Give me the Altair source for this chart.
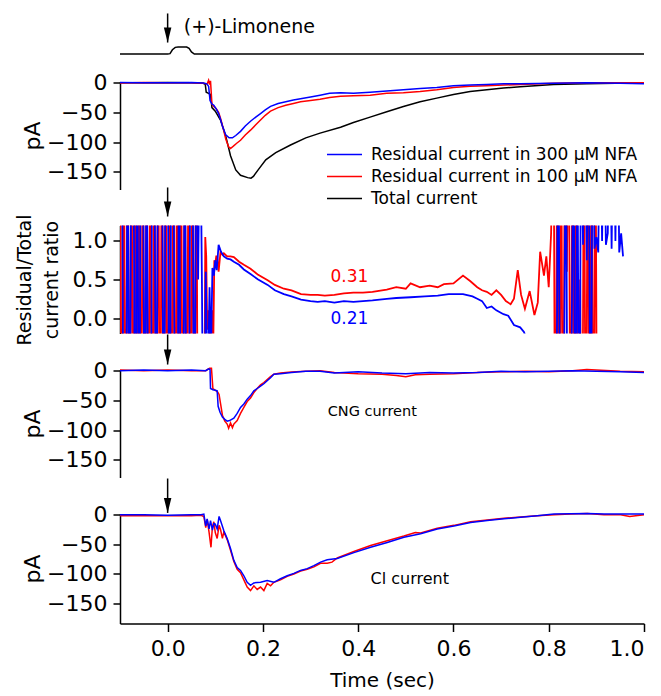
import altair as alt
import pandas as pd

FONT = "DejaVu Sans"
BLUE, RED, BLACK = "#0000ff", "#ff0000", "#000000"
LBL_300 = "Residual current in 300 μM NFA"
LBL_100 = "Residual current in 100 μM NFA"
LBL_TOT = "Total current"

TIME_DOMAIN = [-0.1, 1.0]
TIME_TICKS = [0.0, 0.2, 0.4, 0.6, 0.8, 1.0]
PA_DOMAIN = [-180, 2]
PA_DOMAIN_LAST = [-183.5, 2]
PA_TICKS = [0, -50, -100, -150]
RATIO_DOMAIN = [-0.2, 1.2]
RATIO_TICKS = [0.0, 0.5, 1.0]
STIM_DOMAIN = [0, 8 / 7]

# ---------------- stimulus trace (arbitrary units) ----------------
stimulus = [(-0.10, 0), (0.000, 0), (0.005, 0.05), (0.010, 0.6), (0.016, 0.95), (0.022, 1.0),
            (0.040, 1.0), (0.045, 0.8), (0.050, 0.3), (0.056, 0), (1.000, 0)]

# ---------------- panel 1: currents (pA) ----------------
total_pa = [(-0.10, 0), (-0.05, 0), (0.00, 0.5), (0.05, 0), (0.075, -1), (0.079, -3), (0.081, -16),
            (0.086, -18), (0.090, -20), (0.093, -42), (0.100, -48), (0.111, -63), (0.122, -90),
            (0.132, -123), (0.143, -147), (0.153, -156), (0.168, -160), (0.175, -161), (0.180, -158),
            (0.190, -147), (0.206, -130), (0.227, -118), (0.258, -105), (0.290, -93), (0.320, -85),
            (0.363, -75), (0.390, -67), (0.425, -58), (0.460, -49), (0.495, -40), (0.530, -32),
            (0.565, -26), (0.600, -20), (0.635, -15), (0.670, -12), (0.705, -9), (0.740, -7),
            (0.810, -3), (0.880, -2), (0.940, -1), (1.000, 0)]

nfa300_pa = [(-0.10, 0.5), (-0.05, 0), (0.00, 0), (0.05, 0.5), (0.075, -0.5), (0.082, -2), (0.086, -6),
             (0.089, -30), (0.093, -36), (0.097, -38), (0.102, -44), (0.107, -52), (0.111, -62),
             (0.115, -73), (0.122, -88), (0.129, -93), (0.136, -93), (0.143, -89), (0.153, -82),
             (0.163, -73), (0.174, -65), (0.185, -58), (0.195, -52), (0.205, -46), (0.216, -40),
             (0.232, -35), (0.248, -32), (0.264, -29), (0.279, -27), (0.300, -24), (0.320, -21),
             (0.340, -18), (0.363, -17), (0.390, -18), (0.425, -16), (0.460, -14), (0.495, -12),
             (0.530, -10), (0.565, -8), (0.600, -5), (0.635, -4), (0.670, -3), (0.705, -2),
             (0.740, -2), (0.810, -1), (0.880, 0), (0.950, -1), (1.000, -2)]

nfa100_pa = [(-0.10, -0.5), (-0.05, 0.5), (0.00, 0), (0.05, 0), (0.075, -1), (0.083, -2), (0.086, 4),
             (0.088, -3), (0.090, 3), (0.093, -36), (0.097, -40), (0.102, -44), (0.107, -50),
             (0.111, -60), (0.117, -78), (0.122, -95), (0.128, -108), (0.132, -111), (0.138, -107),
             (0.145, -102), (0.153, -97), (0.163, -88), (0.174, -80), (0.185, -71), (0.195, -63),
             (0.205, -55), (0.216, -48), (0.232, -42), (0.248, -38), (0.264, -35), (0.279, -32),
             (0.300, -30), (0.320, -28), (0.340, -25), (0.363, -23), (0.390, -22), (0.425, -21),
             (0.460, -18), (0.495, -17), (0.530, -15), (0.565, -12), (0.600, -8), (0.635, -6),
             (0.670, -5), (0.705, -4), (0.740, -3), (0.810, -1), (0.880, 0), (0.950, 0), (1.000, 0)]

# ---------------- panel 2: residual / total ratio ----------------
ratio_300 = [(-0.100, 3), (-0.096, 3), (-0.092, -3), (-0.088, -3), (-0.084, 3), (-0.080, -3), (-0.076, 3),
             (-0.072, 3), (-0.068, -3), (-0.064, 3), (-0.060, -3), (-0.056, 3), (-0.052, 3), (-0.048, -3),
             (-0.044, 3), (-0.040, -3), (-0.036, -3), (-0.032, 3), (-0.028, 3), (-0.024, -3), (-0.020, 3),
             (-0.016, 3), (-0.012, 3), (-0.008, -3), (-0.004, 3), (0.000, 3), (0.004, -3), (0.008, 3),
             (0.012, 3), (0.016, -3), (0.020, -3), (0.024, 3), (0.028, -3), (0.032, -3), (0.036, 3),
             (0.040, -3), (0.044, -3), (0.048, 3), (0.052, 3), (0.056, -3), (0.060, 3),
             (0.064, 0.5), (0.068, 3), (0.072, 0.45), (0.076, -3), (0.080, 0.6), (0.084, -1), (0.088, 0.4),
             (0.091, -0.5), (0.094, 0.65), (0.097, 0.55), (0.100, 0.75), (0.103, 0.62), (0.107, 0.95),
             (0.112, 0.86), (0.118, 0.80), (0.125, 0.77), (0.132, 0.76), (0.139, 0.73), (0.150, 0.69),
             (0.160, 0.63), (0.174, 0.57), (0.190, 0.50), (0.210, 0.43), (0.225, 0.36), (0.244, 0.31),
             (0.260, 0.28), (0.280, 0.24), (0.300, 0.22), (0.315, 0.21), (0.330, 0.22), (0.350, 0.20),
             (0.370, 0.22), (0.390, 0.21), (0.410, 0.22), (0.430, 0.23), (0.460, 0.25), (0.480, 0.26),
             (0.510, 0.27), (0.540, 0.28), (0.567, 0.29), (0.590, 0.31), (0.620, 0.31), (0.640, 0.28),
             (0.650, 0.25), (0.660, 0.22), (0.670, 0.13), (0.680, 0.15), (0.690, 0.10), (0.705, 0.05),
             (0.715, 0.03), (0.727, -0.09), (0.740, -0.12), (0.748, -0.18), (0.755, -0.30), (0.760, -0.50),
             (0.780, -3), (0.800, -3), (0.815, -3), (0.820, 3), (0.825, -3), (0.830, -3), (0.836, 3),
             (0.840, -3), (0.845, -3), (0.852, 3), (0.856, -3), (0.860, 3), (0.864, -3), (0.868, 3),
             (0.872, 0.95), (0.876, 3), (0.880, 0.75), (0.884, 3), (0.888, -3), (0.892, 3), (0.896, 0.90),
             (0.900, 1.05), (0.904, 0.85), (0.908, 3), (0.912, 1.00), (0.916, 3), (0.920, 0.95),
             (0.924, 1.10), (0.928, 3), (0.932, 0.90), (0.936, 3), (0.940, 1.00), (0.944, 3),
             (0.948, 0.85), (0.952, 1.10), (0.956, 0.80)]

ratio_100 = [(-0.100, 3), (-0.096, -3), (-0.092, 3), (-0.088, -3), (-0.084, 3), (-0.080, -3), (-0.076, 3),
             (-0.072, -3), (-0.068, 3), (-0.064, -3), (-0.060, 3), (-0.056, -3), (-0.052, 3), (-0.048, -3),
             (-0.044, 3), (-0.040, -3), (-0.036, 3), (-0.032, -3), (-0.028, 3), (-0.024, -3), (-0.020, 3),
             (-0.016, -3), (-0.012, 3), (-0.008, -3), (-0.004, 3), (0.000, -3), (0.004, 3), (0.008, -3),
             (0.012, 3), (0.016, -3), (0.020, 3), (0.024, -3), (0.028, 3), (0.032, -3), (0.036, 3),
             (0.040, -3), (0.044, 3), (0.048, -3), (0.052, 3), (0.056, -3), (0.060, 3),
             (0.064, -3), (0.076, -3), (0.079, 1.05), (0.081, 0.80), (0.083, -0.15), (0.086, 0.10),
             (0.088, -0.30), (0.090, 0.05), (0.092, -0.20), (0.094, 0.10), (0.096, -0.25), (0.098, 0.75),
             (0.100, 0.70), (0.102, 0.80), (0.104, 0.80), (0.107, 0.60), (0.111, 0.86), (0.115, 0.82),
             (0.118, 0.84), (0.125, 0.80), (0.132, 0.80), (0.139, 0.79), (0.150, 0.73), (0.160, 0.69),
             (0.174, 0.64), (0.190, 0.56), (0.210, 0.49), (0.225, 0.43), (0.244, 0.38), (0.260, 0.36),
             (0.280, 0.31), (0.300, 0.30), (0.315, 0.30), (0.330, 0.29), (0.350, 0.30), (0.370, 0.32),
             (0.390, 0.33), (0.410, 0.33), (0.430, 0.34), (0.460, 0.37), (0.480, 0.40), (0.500, 0.38),
             (0.510, 0.45), (0.530, 0.40), (0.550, 0.42), (0.567, 0.40), (0.580, 0.44), (0.600, 0.45),
             (0.620, 0.55), (0.635, 0.48), (0.650, 0.40), (0.660, 0.36), (0.670, 0.34), (0.680, 0.30),
             (0.690, 0.36), (0.700, 0.30), (0.710, 0.22), (0.720, 0.18), (0.727, 0.25), (0.735, 0.62),
             (0.742, 0.30), (0.750, 0.12), (0.760, 0.35), (0.770, 0.04), (0.777, 0.20), (0.782, 0.86),
             (0.790, 0.55), (0.795, 0.80), (0.800, 0.40), (0.805, 1.10), (0.810, 3), (0.814, -3),
             (0.818, 3), (0.822, -3), (0.826, 3), (0.830, -3), (0.834, 3), (0.838, 0.60), (0.842, 3),
             (0.846, -3), (0.850, 3), (0.854, -3), (0.858, 3), (0.862, -3), (0.866, 0.50), (0.870, -3),
             (0.874, 3), (0.878, -3), (0.882, 3), (0.886, -3), (0.890, 3), (0.894, -3), (0.898, 3),
             (0.902, -3)]

ratio_notes = ["0.31", "0.21"]
ratio_note_t = [0.342, 0.342]
ratio_note_v = [0.53, -0.01]

# ---------------- panel 3: CNG current (pA) ----------------
cng_300 = [(-0.10, 0), (-0.05, 1), (0.00, 0), (0.05, 1), (0.080, 0), (0.086, 3), (0.089, 2), (0.090, -30),
           (0.095, -32), (0.100, -33), (0.104, -34), (0.106, -60), (0.110, -70), (0.115, -78), (0.120, -82),
           (0.125, -85), (0.130, -84), (0.139, -80), (0.146, -72), (0.153, -62), (0.160, -56), (0.167, -48),
           (0.174, -42), (0.181, -34), (0.188, -30), (0.195, -26), (0.202, -22), (0.209, -17), (0.216, -12),
           (0.223, -6), (0.237, -5), (0.260, -3), (0.290, -1), (0.320, -1), (0.350, -4), (0.400, -2),
           (0.450, -4), (0.500, -5), (0.550, -3), (0.600, -4), (0.650, -3), (0.700, -1), (0.750, -2),
           (0.800, -1), (0.850, 0), (0.900, -1), (0.950, -2), (1.000, -3)]

cng_100 = [(-0.10, 1), (-0.05, 0), (0.00, 1), (0.05, 0), (0.080, 0), (0.088, 4), (0.092, 4), (0.095, -30),
           (0.100, -33), (0.105, -36), (0.108, -40), (0.111, -55), (0.115, -75), (0.120, -85), (0.125, -90),
           (0.128, -97), (0.132, -88), (0.136, -96), (0.139, -90), (0.146, -84), (0.153, -72), (0.160, -62),
           (0.167, -52), (0.174, -46), (0.181, -37), (0.188, -30), (0.195, -24), (0.202, -20), (0.209, -15),
           (0.216, -10), (0.223, -6), (0.237, -4), (0.260, -2), (0.290, -1), (0.320, 0), (0.350, -3),
           (0.400, -5), (0.450, -6), (0.480, -8), (0.500, -10), (0.520, -7), (0.550, -6), (0.600, -5),
           (0.650, -3), (0.700, -2), (0.750, -1), (0.800, -2), (0.850, 0), (0.880, 2), (0.900, 1),
           (0.950, -1), (1.000, -2)]

# ---------------- panel 4: Cl current (pA) ----------------
cl_300 = [(-0.10, 0), (-0.05, 0), (0.00, -1), (0.05, 0), (0.070, 0), (0.076, 1), (0.080, -19), (0.083, -7),
          (0.087, -24), (0.090, -10), (0.094, -26), (0.097, -15), (0.100, -16), (0.104, -24), (0.108, -3),
          (0.111, -10), (0.118, -27), (0.125, -40), (0.132, -57), (0.139, -77), (0.146, -89), (0.153, -94),
          (0.160, -103), (0.167, -114), (0.174, -119), (0.181, -115), (0.195, -114), (0.209, -111),
          (0.223, -114), (0.237, -108), (0.251, -103), (0.265, -99), (0.279, -94), (0.293, -91),
          (0.307, -86), (0.321, -80), (0.335, -76), (0.356, -74), (0.391, -64), (0.426, -55), (0.461, -47),
          (0.496, -38), (0.531, -32), (0.566, -24), (0.601, -19), (0.636, -13), (0.671, -10), (0.706, -7),
          (0.741, -4.5), (0.776, -2), (0.811, 1), (0.846, 1.5), (0.881, 2), (0.916, 1), (0.951, 1),
          (1.000, 1)]

cl_100 = [(-0.10, -2), (-0.05, -2), (0.00, -2), (0.05, -2), (0.070, -1), (0.076, -3), (0.080, -22),
          (0.083, -8), (0.087, -30), (0.091, -55), (0.094, -20), (0.097, -12), (0.100, -30), (0.104, -40),
          (0.108, -18), (0.111, -25), (0.115, -40), (0.118, -29), (0.125, -42), (0.132, -60), (0.139, -79),
          (0.146, -92), (0.153, -98), (0.160, -110), (0.167, -122), (0.174, -128), (0.181, -120),
          (0.188, -126), (0.195, -122), (0.202, -128), (0.209, -116), (0.216, -120), (0.223, -114),
          (0.237, -110), (0.251, -104), (0.265, -100), (0.279, -95), (0.293, -92), (0.307, -88),
          (0.321, -82), (0.335, -82), (0.345, -80), (0.356, -73), (0.391, -62), (0.426, -52), (0.461, -44),
          (0.496, -36), (0.520, -30), (0.531, -31), (0.566, -23), (0.601, -18), (0.636, -12), (0.671, -9),
          (0.706, -6), (0.741, -4), (0.776, -2), (0.811, 0), (0.846, 1), (0.881, 2), (0.916, 0),
          (0.951, 0), (0.970, -3), (1.000, 0)]

# ---------------- annotations ----------------
stim_label = "(+)-Limonene"
stim_label_t, stim_label_v = 0.034, 3.07
stim_arrow = {"t": [0.0], "v": [5.79], "v2": [1.64]}
ratio_arrow = {"t": [0.0], "v": [1.693], "v2": [1.317]}
cng_arrow = {"t": [0.0], "v": [61.0], "v2": [10.4]}
cl_arrow = {"t": [0.0], "v": [61.0], "v2": [3.0]}
cng_label = {"t": [0.336], "v": [-68.8], "label": ["CNG current"]}
cl_label = {"t": [0.426], "v": [-109.0], "label": ["Cl current"]}


def frame(pairs, series):
    return pd.DataFrame({"t": [p[0] for p in pairs], "v": [p[1] for p in pairs], "series": series})


W = 524
H = 108
HEAD = "M-0.25,-1L0.25,-1L0,0Z"

xs = alt.Scale(domain=TIME_DOMAIN, nice=False, zero=False)
x_axis_bottom = alt.Axis(values=TIME_TICKS, format=".1f", title="Time (sec)", titleFontSize=20,
                         tickSize=8, labelPadding=7, titlePadding=11)


def xenc(field, bottom=False):
    return alt.X(field, type="quantitative", scale=xs, axis=x_axis_bottom if bottom else None)


def pa_axis():
    return alt.Axis(values=PA_TICKS, title="pA", titleFontSize=22, titleX=-81,
                    titleBaseline="alphabetic", tickSize=7, labelPadding=6)


ratio_axis = alt.Axis(values=RATIO_TICKS, format=".1f", title=["Residual/Total", "current ratio"],
                      titleFontSize=19, titleLineHeight=27, titleX=-90, titleBaseline="alphabetic",
                      tickSize=7, labelPadding=6)


def arrow_layers(arr, yscale, yaxis, bottom=False):
    df = pd.DataFrame(arr)
    shaft = alt.Chart(df).mark_rule(color="black", strokeWidth=1.5).encode(
        x=xenc("t", bottom), y=alt.Y("v:Q", scale=yscale, axis=yaxis), y2="v2:Q")
    head = alt.Chart(df).mark_point(shape=HEAD, size=900, filled=True, color="black",
                                    opacity=1, strokeWidth=0).encode(
        x=xenc("t", bottom), y=alt.Y("v2:Q", scale=yscale, axis=yaxis))
    return [shaft, head]


two_color = alt.Scale(domain=[LBL_300, LBL_100], range=[BLUE, RED])

# ---- stimulus panel ----
stim_scale = alt.Scale(domain=STIM_DOMAIN, nice=False, zero=False)
stim_line = alt.Chart(frame(stimulus, "stim")).mark_line(color="black", strokeWidth=1.5).encode(
    x=xenc("t"), y=alt.Y("v:Q", scale=stim_scale, axis=None))
stim_text = alt.Chart(pd.DataFrame({"t": [stim_label_t], "v": [stim_label_v], "label": [stim_label]})).mark_text(
    align="left", baseline="alphabetic", fontSize=19, font=FONT, color="black").encode(
    x=xenc("t"), y=alt.Y("v:Q", scale=stim_scale, axis=None), text="label:N")
stim_panel = alt.layer(stim_line, stim_text, *arrow_layers(stim_arrow, stim_scale, None)).properties(
    width=W, height=8)

# ---- panel 1 ----
p1_scale = alt.Scale(domain=PA_DOMAIN, nice=False, zero=False)
p1_df = pd.concat([frame(total_pa, LBL_TOT), frame(nfa100_pa, LBL_100), frame(nfa300_pa, LBL_300)])
p1 = alt.Chart(p1_df).mark_line(strokeWidth=1.5).encode(
    x=xenc("t"),
    y=alt.Y("v:Q", scale=p1_scale, axis=pa_axis()),
    color=alt.Color("series:N",
                    scale=alt.Scale(domain=[LBL_300, LBL_100, LBL_TOT], range=[BLUE, RED, BLACK]),
                    legend=alt.Legend(title=None, orient="none", legendX=216, legendY=64.5,
                                      symbolType="M-5,0H5", symbolSize=49, symbolStrokeWidth=1.5,
                                      labelFont=FONT, labelFontSize=17, labelColor="black",
                                      labelOffset=18, rowPadding=4, padding=0, labelLimit=400)),
).properties(width=W, height=H)

# ---- panel 2 ----
p2_scale = alt.Scale(domain=RATIO_DOMAIN, nice=False, zero=False)
p2_df = pd.concat([frame(ratio_100, LBL_100), frame(ratio_300, LBL_300)])
p2_lines = alt.Chart(p2_df).mark_line(strokeWidth=1.8, clip=True).encode(
    x=xenc("t"), y=alt.Y("v:Q", scale=p2_scale, axis=ratio_axis),
    color=alt.Color("series:N", scale=two_color, legend=None))
p2_notes = alt.Chart(pd.DataFrame({"t": ratio_note_t, "v": ratio_note_v, "label": ratio_notes,
                                   "series": [LBL_100, LBL_300]})).mark_text(
    align="left", baseline="middle", fontSize=17, font=FONT).encode(
    x=xenc("t"), y=alt.Y("v:Q", scale=p2_scale, axis=ratio_axis), text="label:N",
    color=alt.Color("series:N", scale=two_color, legend=None))
p2 = alt.layer(p2_lines, p2_notes, *arrow_layers(ratio_arrow, p2_scale, ratio_axis)).properties(
    width=W, height=H)

# ---- panel 3 ----
p3_scale = alt.Scale(domain=PA_DOMAIN, nice=False, zero=False)
p3_df = pd.concat([frame(cng_100, LBL_100), frame(cng_300, LBL_300)])
p3_lines = alt.Chart(p3_df).mark_line(strokeWidth=1.5).encode(
    x=xenc("t"), y=alt.Y("v:Q", scale=p3_scale, axis=pa_axis()),
    color=alt.Color("series:N", scale=two_color, legend=None))
p3_text = alt.Chart(pd.DataFrame(cng_label)).mark_text(
    align="left", baseline="middle", fontSize=14.5, font=FONT, color="black").encode(
    x=xenc("t"), y=alt.Y("v:Q", scale=p3_scale, axis=pa_axis()), text="label:N")
p3 = alt.layer(p3_lines, p3_text, *arrow_layers(cng_arrow, p3_scale, pa_axis())).properties(
    width=W, height=H)

# ---- panel 4 ----
p4_scale = alt.Scale(domain=PA_DOMAIN_LAST, nice=False, zero=False)
p4_df = pd.concat([frame(cl_100, LBL_100), frame(cl_300, LBL_300)])
p4_lines = alt.Chart(p4_df).mark_line(strokeWidth=1.5).encode(
    x=xenc("t", True), y=alt.Y("v:Q", scale=p4_scale, axis=pa_axis()),
    color=alt.Color("series:N", scale=two_color, legend=None))
p4_text = alt.Chart(pd.DataFrame(cl_label)).mark_text(
    align="left", baseline="middle", fontSize=16, font=FONT, color="black").encode(
    x=xenc("t", True), y=alt.Y("v:Q", scale=p4_scale, axis=pa_axis()), text="label:N")
p4 = alt.layer(p4_lines, p4_text, *arrow_layers(cl_arrow, p4_scale, pa_axis(), True)).properties(
    width=W, height=110)

inner = alt.vconcat(p1, p2, p3, p4, spacing=36, bounds="flush").resolve_scale(color="independent")
chart = alt.vconcat(stim_panel, inner, spacing=27.5, bounds="flush").resolve_scale(
    color="independent"
).properties(
    padding={"left": 7, "top": 4, "right": 0, "bottom": 0}
).configure(font=FONT).configure_view(stroke=None).configure_axis(
    domainColor="black", domainWidth=1.5, tickColor="black", tickWidth=1.5,
    labelColor="black", labelFont=FONT, labelFontSize=22, titleFont=FONT, titleColor="black",
    titleFontWeight="normal", grid=False
)

chart.save("out.html", embed_options={"renderer": "svg", "actions": False})
